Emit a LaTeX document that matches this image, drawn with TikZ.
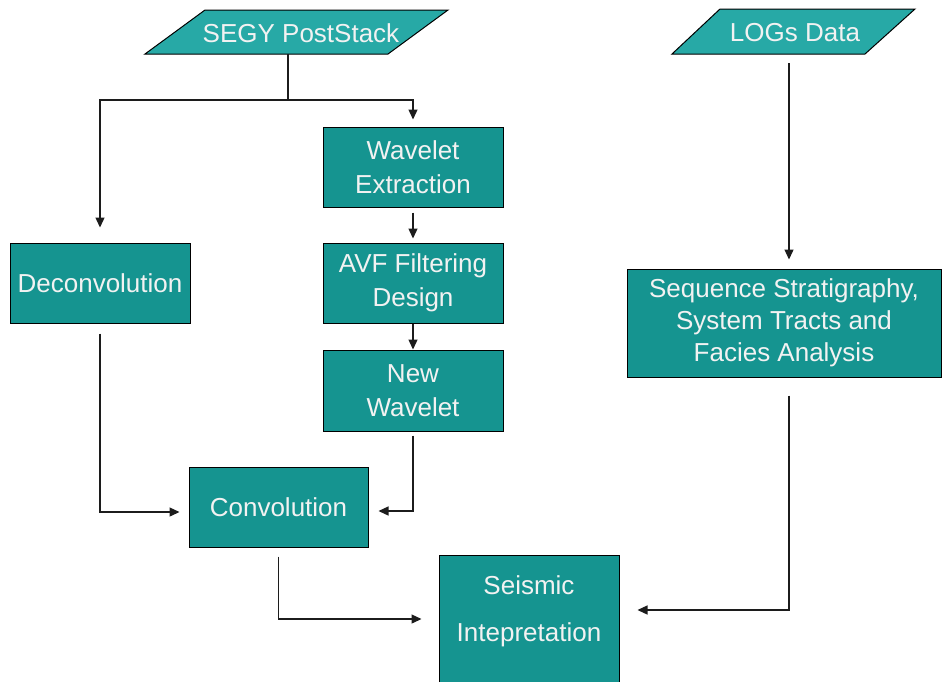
\documentclass[tikz,border=0pt]{standalone}
\usepackage{fontspec}
\setmainfont{Liberation Sans}
\usetikzlibrary{arrows.meta}
\definecolor{paraFill}{HTML}{27A9A6}
\definecolor{boxFill}{HTML}{159490}
\definecolor{txtCol}{HTML}{F2F2F2}
\definecolor{lineCol}{HTML}{1C1C1C}
\tikzset{
  flowbox/.style={draw=black, line width=1pt, fill=boxFill, inner sep=0pt,
    text=txtCol, align=center, font=\fontsize{26}{33.5}\selectfont},
  paraShape/.style={draw=black, line width=1pt, fill=paraFill},
  paraText/.style={text=txtCol, font=\fontsize{26}{32}\selectfont, inner sep=0pt},
  conn/.style={draw=lineCol, line width=1.3pt},
  arr/.style={conn, -{Triangle[length=10pt,width=9pt]}}
}
\begin{document}
\begin{tikzpicture}[x=1pt,y=-1pt]
\useasboundingbox (0,0) rectangle (942,681);
\clip (0,0) rectangle (942,681);
% parallelograms
\draw[paraShape] (145,54) -- (205,10) -- (448,10) -- (388,54) -- cycle;
\node[paraText] (segy) at (301,33) {SEGY PostStack};
\coordinate (segyb) at (288,54);
\draw[paraShape] (672,54) -- (720,9) -- (915,9) -- (865,54) -- cycle;
\node[paraText] (logs) at (795,33) {LOGs Data};
\coordinate (logsb) at (789,54);
% boxes
\node[flowbox, minimum width=180pt, minimum height=80pt] (decon) at (100,283) {Deconvolution};
\node[flowbox, minimum width=180pt, minimum height=80pt] (wave) at (413,167) {Wavelet\\Extraction};
\node[flowbox, minimum width=180pt, minimum height=80pt] (avf) at (413,283) {AVF Filtering\\Design};
\node[flowbox, minimum width=180pt, minimum height=81pt] (neww) at (413,390.5) {New\\Wavelet};
\node[flowbox, minimum width=314pt, minimum height=108pt, font=\fontsize{26}{32}\selectfont] (seq) at (784,323) {Sequence Stratigraphy,\\System Tracts and\\Facies Analysis};
\node[flowbox, minimum width=179pt, minimum height=80pt] (conv) at (278.5,507) {Convolution};
\node[flowbox, minimum width=180pt, minimum height=134pt] (seis) at (529,622) {};
\node[text=txtCol, align=center, inner sep=0pt, font=\fontsize{26}{47}\selectfont] (seistxt) at (529,611.5) {Seismic\\Intepretation};
% connectors
\coordinate (split) at (288,100);
\draw[conn] (segyb) -- (split);
\draw[arr, shorten >=15pt] (split) -| (decon.north);
\draw[arr, shorten >=7pt] (split) -| (wave.north);
\draw[arr, shorten <=5pt, shorten >=4pt] (wave.south) -- (avf.north);
\draw[arr] (avf.south) -- (neww.north);
\draw[arr, shorten <=4pt, shorten >=10pt] (neww.south) |- ([yshift=-4pt]conv.east);
\draw[arr, shorten <=10pt, shorten >=9pt] (decon.south) |- ([yshift=-5pt]conv.west);
\draw[arr, shorten <=9pt, shorten >=17pt] (conv.south) |- ([yshift=3pt]seis.west);
\draw[arr, shorten <=9pt, shorten >=9pt] (logsb) -- ([xshift=5pt]seq.north);
\draw[arr, shorten <=18pt, shorten >=18pt] ([xshift=5pt]seq.south) |- ([yshift=12pt]seis.east);
\end{tikzpicture}
\end{document}
